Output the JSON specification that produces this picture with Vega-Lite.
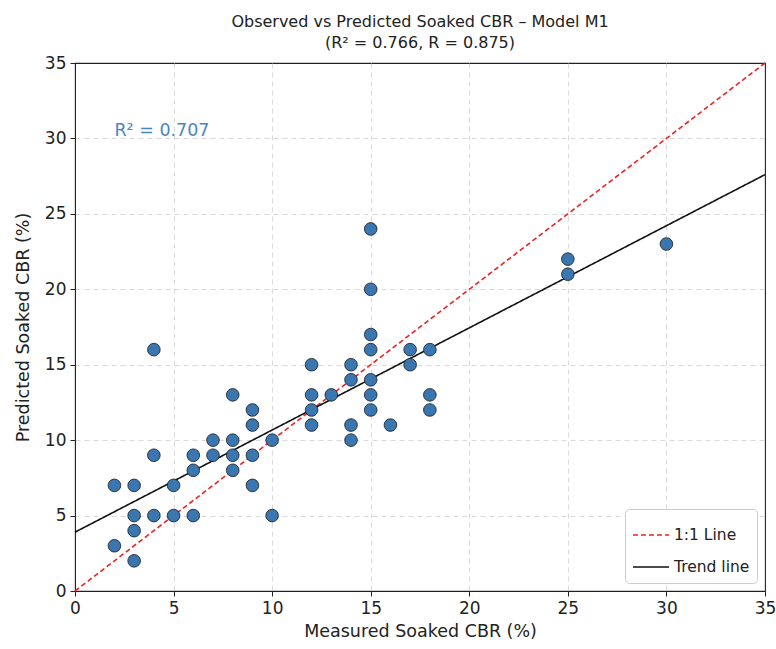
{
  "$schema": "https://vega.github.io/schema/vega-lite/v6.json",
  "width": 690,
  "height": 528,
  "autosize": {"type": "none"},
  "padding": {"left": 75, "top": 63, "right": 11, "bottom": 58},
  "background": "white",
  "config": {
    "font": "DejaVu Sans",
    "view": {"stroke": "#222222", "strokeWidth": 1.1},
    "axis": {
      "domainColor": "#222222",
      "tickColor": "#222222",
      "tickSize": 5,
      "labelFontSize": 17,
      "labelColor": "#222222",
      "labelFlush": false,
      "titleFontSize": 17.5,
      "titleFontWeight": "normal",
      "titleColor": "#222222",
      "gridColor": "#d0d0d0",
      "gridDash": [5, 4],
      "gridWidth": 0.8,
      "gridOpacity": {"condition": {"test": "datum.value === 0 || datum.value === 35", "value": 0}, "value": 1},
      "labelFont": "DejaVu Sans",
      "titleFont": "DejaVu Sans"
    }
  },
  "title": {
    "text": ["Observed vs Predicted Soaked CBR – Model M1", "(R² = 0.766, R = 0.875)"],
    "fontSize": 16,
    "fontWeight": "normal",
    "font": "DejaVu Sans",
    "color": "#222222",
    "anchor": "middle",
    "offset": 3,
    "lineHeight": 21
  },
  "datasets": {
    "points": [
      {"measured": 4, "predicted": 16}, {"measured": 8, "predicted": 13}, {"measured": 9, "predicted": 12},
      {"measured": 9, "predicted": 11}, {"measured": 7, "predicted": 10}, {"measured": 8, "predicted": 10},
      {"measured": 10, "predicted": 10}, {"measured": 4, "predicted": 9}, {"measured": 6, "predicted": 9},
      {"measured": 7, "predicted": 9}, {"measured": 8, "predicted": 9}, {"measured": 9, "predicted": 9},
      {"measured": 6, "predicted": 8}, {"measured": 8, "predicted": 8}, {"measured": 2, "predicted": 7},
      {"measured": 3, "predicted": 7}, {"measured": 5, "predicted": 7}, {"measured": 9, "predicted": 7},
      {"measured": 3, "predicted": 5}, {"measured": 4, "predicted": 5}, {"measured": 5, "predicted": 5},
      {"measured": 6, "predicted": 5}, {"measured": 10, "predicted": 5}, {"measured": 3, "predicted": 4},
      {"measured": 2, "predicted": 3}, {"measured": 3, "predicted": 2},
      {"measured": 15, "predicted": 24}, {"measured": 15, "predicted": 20}, {"measured": 15, "predicted": 17},
      {"measured": 15, "predicted": 16}, {"measured": 17, "predicted": 16}, {"measured": 18, "predicted": 16},
      {"measured": 12, "predicted": 15}, {"measured": 14, "predicted": 15}, {"measured": 17, "predicted": 15},
      {"measured": 14, "predicted": 14}, {"measured": 15, "predicted": 14}, {"measured": 12, "predicted": 13},
      {"measured": 13, "predicted": 13}, {"measured": 15, "predicted": 13}, {"measured": 18, "predicted": 13},
      {"measured": 12, "predicted": 12}, {"measured": 15, "predicted": 12}, {"measured": 18, "predicted": 12},
      {"measured": 12, "predicted": 11}, {"measured": 14, "predicted": 11}, {"measured": 16, "predicted": 11},
      {"measured": 14, "predicted": 10},
      {"measured": 25, "predicted": 22}, {"measured": 25, "predicted": 21}, {"measured": 30, "predicted": 23}
    ],
    "lines": [
      {"series": "1:1 Line", "x": 0, "y": 0},
      {"series": "1:1 Line", "x": 35, "y": 35},
      {"series": "Trend line", "x": 0, "y": 3.9},
      {"series": "Trend line", "x": 35, "y": 27.6}
    ],
    "labels": [
      {"x": 2, "y": 30.5, "label": "R² = 0.707"}
    ]
  },
  "layer": [
    {
      "data": {"name": "lines"},
      "mark": {"type": "line", "strokeWidth": 1.6},
      "encoding": {
        "x": {"field": "x", "type": "quantitative", "scale": {"domain": [0, 35], "nice": false}, "axis": {"values": [0, 5, 10, 15, 20, 25, 30, 35], "title": "Measured Soaked CBR (%)", "titlePadding": 6, "labelPadding": 4}},
        "y": {"field": "y", "type": "quantitative", "scale": {"domain": [0, 35], "nice": false}, "axis": {"values": [0, 5, 10, 15, 20, 25, 30, 35], "title": "Predicted Soaked CBR (%)", "titlePadding": 12, "labelPadding": 4}},
        "color": {
          "field": "series", "type": "nominal",
          "scale": {"domain": ["1:1 Line", "Trend line"], "range": ["#ee2222", "#111111"]},
          "legend": {
            "title": null, "orient": "bottom-right", "offset": 8,
            "fillColor": "white", "strokeColor": "#cccccc", "cornerRadius": 4, "padding": 7,
            "labelFontSize": 15.5, "labelFont": "DejaVu Sans", "labelColor": "#222222",
            "symbolType": "stroke", "symbolSize": 1300, "symbolStrokeWidth": 1.6, "rowPadding": 4
          }
        },
        "strokeDash": {
          "field": "series", "type": "nominal",
          "scale": {"domain": ["1:1 Line", "Trend line"], "range": [[5, 3], [1, 0]]},
          "legend": {
            "title": null, "orient": "bottom-right", "offset": 8,
            "fillColor": "white", "strokeColor": "#cccccc", "cornerRadius": 4, "padding": 7,
            "labelFontSize": 15.5, "labelFont": "DejaVu Sans", "labelColor": "#222222",
            "symbolType": "stroke", "symbolSize": 1300, "symbolStrokeWidth": 1.6, "rowPadding": 4
          }
        }
      }
    },
    {
      "data": {"name": "points"},
      "mark": {"type": "point", "filled": true, "fill": "#3a76b0", "stroke": "#1a1a1a", "strokeWidth": 0.8, "opacity": 1, "size": 160},
      "encoding": {
        "x": {"field": "measured", "type": "quantitative"},
        "y": {"field": "predicted", "type": "quantitative"}
      }
    },
    {
      "data": {"name": "labels"},
      "mark": {"type": "text", "align": "left", "baseline": "middle", "fontSize": 17.5, "color": "#4a86c0", "font": "DejaVu Sans"},
      "encoding": {
        "x": {"field": "x", "type": "quantitative"},
        "y": {"field": "y", "type": "quantitative"},
        "text": {"field": "label"}
      }
    }
  ]
}
